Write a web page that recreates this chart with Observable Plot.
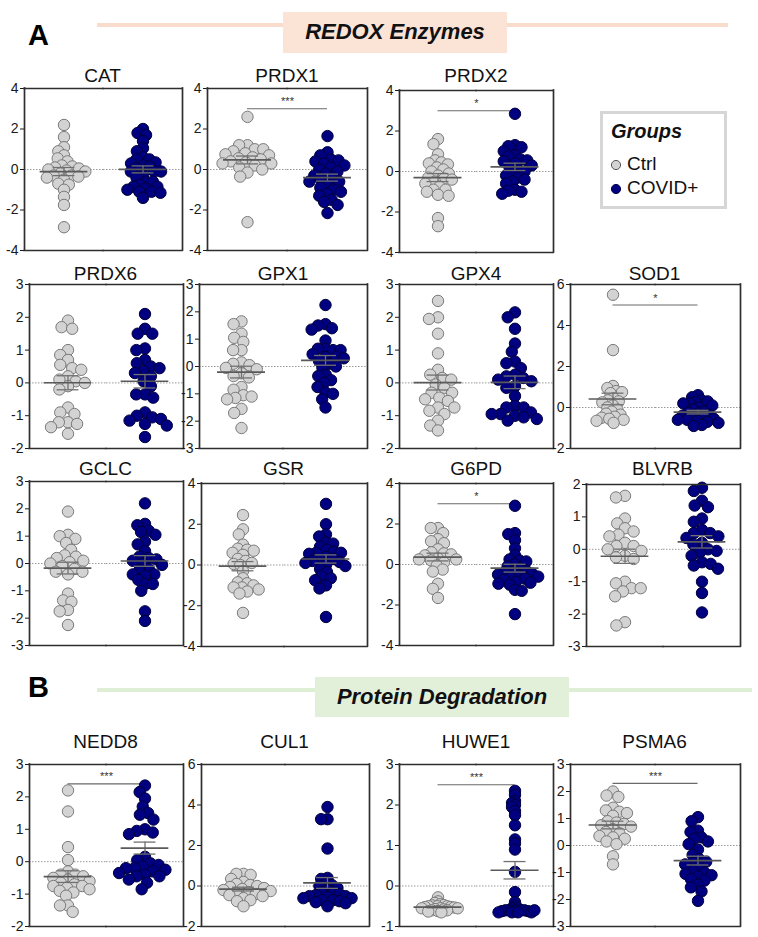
<!DOCTYPE html>
<html><head><meta charset="utf-8">
<script src="https://cdn.jsdelivr.net/npm/d3@7"></script>
<script src="https://cdn.jsdelivr.net/npm/@observablehq/plot@0.6"></script>
<style>
body{margin:0;background:#fff;font-family:"Liberation Sans",Arial,sans-serif;color:#1a1a1a;}
#root{position:relative;width:758px;height:937px;overflow:hidden;background:#fff;}
#root > div{position:absolute;}
.t{white-space:nowrap;line-height:1;}
</style></head><body><div id="root"></div>
<script>
// ---------- data ----------
const groups = ["Ctrl", "COVID+"];
const genes = ["CAT","PRDX1","PRDX2","PRDX6","GPX1","GPX4","SOD1","GCLC","GSR","G6PD","BLVRB","NEDD8","CUL1","HUWE1","PSMA6"];

const CAT_ctrl = [2.2,1.6,1.1,0.9,0.7,0.55,0.4,0.2,0.15,0.1,0.05,0,-0.05,-0.1,-0.2,-0.3,-0.3,-0.35,-0.4,-0.5,-0.7,-0.75,-1.0,-1.35,-1.75,-2.85];
const CAT_covid = [2.0,1.8,1.7,1.4,1.05,0.9,0.6,0.5,0.5,0.35,0.3,0.2,0.15,0.05,-0.1,-0.1,-0.1,-0.3,-0.4,-0.6,-0.6,-0.75,-0.85,-0.85,-0.95,-1.0,-1.1,-1.1,-1.15,-1.4];
const PRDX1_ctrl = [2.6,1.2,1.2,1.0,1.0,0.9,0.8,0.75,0.7,0.6,0.55,0.5,0.4,0.35,0.3,0.3,0.2,0.1,0.0,-0.15,-0.35,-2.6];
const PRDX1_covid = [1.65,0.85,0.7,0.5,0.45,0.4,0.3,0.2,0.1,0.0,-0.1,-0.2,-0.3,-0.4,-0.5,-0.6,-0.6,-0.75,-0.9,-1.0,-1.1,-1.2,-1.3,-1.5,-1.6,-1.75,-2.15];
const PRDX2_ctrl = [1.6,1.35,0.85,0.55,0.45,0.4,0.35,0.2,0.1,0.0,-0.1,-0.2,-0.3,-0.35,-0.4,-0.5,-0.6,-0.75,-0.9,-0.9,-1.0,-1.15,-1.2,-2.3,-2.7];
const PRDX2_covid = [2.85,1.3,1.25,1.2,1.0,0.8,0.75,0.6,0.55,0.5,0.4,0.3,0.2,0.1,0.0,-0.1,-0.2,-0.3,-0.4,-0.5,-0.6,-0.9,-0.95,-1.0,-1.1];
const PRDX6_ctrl = [1.9,1.7,1.65,1.0,0.85,0.7,0.55,0.45,0.4,0.2,0.1,0.05,0.0,-0.1,-0.2,-0.75,-0.9,-0.95,-1.2,-1.2,-1.25,-1.35,-1.55];
const PRDX6_covid = [2.1,1.65,1.5,1.5,1.05,1.0,0.7,0.6,0.5,0.45,0.35,0.3,0.2,0.05,-0.1,-0.35,-0.35,-0.45,-0.9,-1.0,-1.05,-1.1,-1.15,-1.25,-1.3,-1.65];
const GPX1_ctrl = [1.65,1.55,1.2,1.05,0.9,0.6,0.6,0.15,0.1,0.05,-0.05,-0.1,-0.25,-0.35,-0.4,-0.75,-0.85,-1.05,-1.1,-1.15,-1.2,-1.55,-1.7,-2.25];
const GPX1_covid = [2.25,1.55,1.5,1.4,1.35,0.95,0.65,0.65,0.6,0.6,0.45,0.35,0.35,0.3,0.2,0.1,0.0,-0.05,-0.3,-0.35,-0.5,-0.6,-0.75,-0.95,-1.0,-1.2,-1.5];
const GPX4_ctrl = [2.5,2.0,1.95,1.5,0.9,0.4,0.25,0.15,0.1,-0.05,-0.15,-0.3,-0.3,-0.45,-0.5,-0.55,-0.75,-0.75,-0.85,-0.95,-1.15,-1.3,-1.45];
const GPX4_covid = [2.15,2.0,1.65,1.2,0.95,0.65,0.6,0.45,0.25,0.2,0.15,0.1,0.05,-0.1,-0.15,-0.4,-0.7,-0.75,-0.75,-0.9,-0.95,-0.95,-1.0,-1.05,-1.1,-1.15];
const SOD1_ctrl = [5.5,2.8,1.05,0.95,0.8,0.75,0.7,0.45,0.35,0.3,0.25,0.1,0.0,-0.1,-0.2,-0.3,-0.35,-0.45,-0.5,-0.55,-0.6,-0.65,-0.75];
const SOD1_covid = [0.6,0.5,0.35,0.3,0.25,0.2,0.2,0.1,0.0,-0.1,-0.2,-0.25,-0.3,-0.35,-0.4,-0.45,-0.5,-0.55,-0.6,-0.6,-0.65,-0.7,-0.75,-0.85,-0.9];
const GCLC_ctrl = [1.9,1.05,1.0,0.9,0.75,0.5,0.3,0.25,0.2,0.1,0.05,0.0,-0.1,-0.2,-0.3,-0.3,-0.4,-1.1,-1.35,-1.4,-1.7,-1.75,-2.25];
const GCLC_covid = [2.2,1.45,1.4,1.2,1.15,1.05,0.8,0.7,0.45,0.25,0.2,0.15,0.1,0.0,-0.05,-0.2,-0.25,-0.4,-0.4,-0.45,-0.6,-0.75,-0.75,-1.0,-1.75,-2.1];
const GSR_ctrl = [2.45,1.75,1.5,1.0,0.8,0.75,0.7,0.6,0.5,0.3,0.2,0.1,0.05,0.0,-0.3,-0.65,-0.85,-0.9,-1.0,-1.1,-1.1,-1.2,-1.3,-1.4,-2.35];
const GSR_covid = [3.0,2.0,1.5,1.4,1.1,1.05,0.9,0.75,0.65,0.6,0.6,0.55,0.4,0.3,0.25,0.2,0.15,0.1,0.0,-0.05,-0.2,-0.35,-0.55,-0.65,-0.75,-1.0,-1.15,-2.55];
const G6PD_ctrl = [1.8,1.8,1.55,1.25,1.15,1.05,0.75,0.6,0.55,0.5,0.45,0.3,0.25,0.25,0.2,0.1,-0.05,-0.25,-0.35,-0.95,-1.2,-1.65];
const G6PD_covid = [2.9,1.55,1.5,1.2,0.8,0.45,0.25,0.2,0.15,0.0,-0.1,-0.2,-0.3,-0.35,-0.4,-0.45,-0.5,-0.55,-0.6,-0.65,-0.7,-0.75,-0.85,-0.9,-0.95,-1.0,-1.25,-1.3,-2.45];
const BLVRB_ctrl = [1.65,1.6,0.95,0.8,0.65,0.55,0.45,0.4,0.2,0.1,0.1,0.0,-0.05,-0.2,-0.25,-0.3,-1.0,-1.05,-1.2,-1.2,-1.3,-1.45,-2.25,-2.35];
const BLVRB_covid = [1.9,1.8,1.5,1.35,1.3,0.95,0.85,0.6,0.5,0.5,0.4,0.35,0.2,0.15,0.0,-0.05,-0.1,-0.2,-0.4,-0.45,-0.5,-0.6,-1.0,-1.35,-1.95];
const NEDD8_ctrl = [2.2,1.55,0.45,0.05,-0.3,-0.4,-0.4,-0.45,-0.5,-0.55,-0.6,-0.65,-0.7,-0.75,-0.75,-0.8,-0.85,-0.9,-0.95,-1.05,-1.35,-1.35,-1.55];
const NEDD8_covid = [2.35,2.15,1.95,1.7,1.5,1.45,1.3,1.0,0.95,0.9,0.85,0.15,0.05,-0.05,-0.1,-0.15,-0.2,-0.2,-0.25,-0.3,-0.35,-0.4,-0.45,-0.45,-0.55,-0.65,-0.85];
const CUL1_ctrl = [0.6,0.6,0.55,0.35,0.2,0.1,0.05,0.0,-0.05,-0.1,-0.15,-0.2,-0.25,-0.3,-0.35,-0.4,-0.45,-0.5,-0.6,-0.7,-0.75,-1.0];
const CUL1_covid = [3.9,3.3,3.3,1.85,0.4,0.35,0.1,0.05,0.0,-0.1,-0.2,-0.3,-0.35,-0.4,-0.45,-0.5,-0.5,-0.55,-0.6,-0.6,-0.7,-0.7,-0.75,-0.8,-0.85,-1.0];
const HUWE1_ctrl = [-0.28,-0.38,-0.42,-0.45,-0.47,-0.48,-0.5,-0.5,-0.5,-0.52,-0.52,-0.53,-0.55,-0.55,-0.55,-0.57,-0.58,-0.6,-0.6,-0.62,-0.63,-0.65];
const HUWE1_covid = [2.35,2.25,2.1,2.05,2.0,1.95,1.85,1.75,1.5,1.15,1.05,0.9,0.35,-0.15,-0.4,-0.5,-0.55,-0.55,-0.6,-0.6,-0.6,-0.6,-0.6,-0.62,-0.62,-0.65,-0.65,-0.65,-0.65,-0.6];
const PSMA6_ctrl = [2.0,1.85,1.8,1.4,1.3,1.25,1.2,1.1,0.9,0.85,0.8,0.75,0.7,0.6,0.5,0.45,0.35,0.3,0.25,0.15,0.05,-0.4,-0.7];
const PSMA6_covid = [1.05,0.9,0.55,0.5,0.3,0.25,0.15,0.05,-0.15,-0.35,-0.5,-0.6,-0.65,-0.7,-0.8,-0.95,-1.0,-1.05,-1.1,-1.15,-1.25,-1.3,-1.45,-1.55,-1.7,-2.05];

const values = {CAT:[CAT_ctrl,CAT_covid],PRDX1:[PRDX1_ctrl,PRDX1_covid],PRDX2:[PRDX2_ctrl,PRDX2_covid],
  PRDX6:[PRDX6_ctrl,PRDX6_covid],GPX1:[GPX1_ctrl,GPX1_covid],GPX4:[GPX4_ctrl,GPX4_covid],SOD1:[SOD1_ctrl,SOD1_covid],
  GCLC:[GCLC_ctrl,GCLC_covid],GSR:[GSR_ctrl,GSR_covid],G6PD:[G6PD_ctrl,G6PD_covid],BLVRB:[BLVRB_ctrl,BLVRB_covid],
  NEDD8:[NEDD8_ctrl,NEDD8_covid],CUL1:[CUL1_ctrl,CUL1_covid],HUWE1:[HUWE1_ctrl,HUWE1_covid],PSMA6:[PSMA6_ctrl,PSMA6_covid]};

// y-axis domains and tick labels
const ticksA = [-4,-2,0,2,4];
const ticksB = [-2,-1,0,1,2,3];
const ticksC = [-3,-2,-1,0,1,2,3];
const ticksD = [-2,0,2,4,6];
const ticksE = [-3,-2,-1,0,1,2];
const ticksF = [-1,0,1,2,3];
const yTicks = {CAT:ticksA,PRDX1:ticksA,PRDX2:ticksA,PRDX6:ticksB,GPX1:ticksC,GPX4:ticksB,SOD1:ticksD,
  GCLC:ticksC,GSR:ticksA,G6PD:ticksA,BLVRB:ticksE,NEDD8:ticksB,CUL1:ticksD,HUWE1:ticksF,PSMA6:ticksC};

// significance bars
const sigGenes = ["PRDX1","PRDX2","SOD1","G6PD","NEDD8","HUWE1","PSMA6"];
const sigY = [3, 3, 5, 3, 2.4, 2.5, 2.3];
const sigLabels = ["***","*","*","*","***","***","***"];

// section headers and legend text
const sectionLabels = ["A","B"];
const sectionTitles = ["REDOX Enzymes","Protein Degradation"];
const legendTitle = "Groups";

// ---------- layout (positions / styles) ----------
const layout = {
  CAT:[23,88,182,250], PRDX1:[207,88,367,250], PRDX2:[399,90,553,252],
  PRDX6:[28,284,183,448], GPX1:[199,284,367,448], GPX4:[399,284,553,448], SOD1:[569,284,740,448],
  GCLC:[28,481,183,645], GSR:[200,483,367,646], G6PD:[399,483,553,645], BLVRB:[585,484,740,646],
  NEDD8:[28,764,183,926], CUL1:[200,764,369,926], HUWE1:[399,764,553,926], PSMA6:[569,764,740,926]
};
const titleBase = {CAT:82,PRDX1:82,PRDX2:82,PRDX6:280,GPX1:280,GPX4:280,SOD1:280,GCLC:475,GSR:475,G6PD:475,BLVRB:475,NEDD8:748,CUL1:748,HUWE1:748,PSMA6:748};
// radius used for the beeswarm packing (dots overlap as in the original)
const dodgeR = {CAT:[3.5,3.4],PRDX1:[4.2,3.9],PRDX2:[3.4,3.4],PRDX6:[4.6,4.4],GPX1:[4.2,3.8],GPX4:[4.6,4.4],
  SOD1:[3.0,3.1],GCLC:[4.2,3.9],GSR:[3.3,3.6],G6PD:[3.6,3.4],BLVRB:[4.6,4.4],NEDD8:[4.0,4.2],
  CUL1:[3.6,3.2],HUWE1:[1.8,1.8],PSMA6:[3.8,3.8]};
const fills = ["#d3d3d3","#000080"];
const strokes = ["#7a7a7a","#00003c"];
const R = 5.7;
const FONT = "'Liberation Sans', Arial, sans-serif";

const root = document.getElementById("root");
function addText(txt, left, baseline, size, css = {}) {
  const d = document.createElement("div");
  d.className = "t";
  d.textContent = txt;
  Object.assign(d.style, {left: left + "px", top: (baseline - 0.8465 * size) + "px", fontSize: size + "px", fontFamily: FONT}, css);
  root.appendChild(d);
  return d;
}
function addBox(left, top, w, h, css) {
  const d = document.createElement("div");
  Object.assign(d.style, {left: left + "px", top: top + "px", width: w + "px", height: h + "px", boxSizing: "border-box"}, css);
  root.appendChild(d);
  return d;
}

// Section headers
addBox(97, 23, 631, 4, {background: "#f9dccb"});
addBox(283, 12, 224, 41, {background: "#fbe3d5"});
addText(sectionLabels[0], 28, 46, 29, {fontWeight: "bold", color: "#000"});
addText(sectionTitles[0], 283, 40, 22, {width: "224px", textAlign: "center", fontWeight: "bold", fontStyle: "italic", color: "#111"});

addBox(97, 688, 655, 4, {background: "#deefd6"});
addBox(315, 677, 254, 40, {background: "#e2f0da"});
addText(sectionLabels[1], 28, 698, 29, {fontWeight: "bold", color: "#000"});
addText(sectionTitles[1], 315, 705, 22, {width: "254px", textAlign: "center", fontWeight: "bold", fontStyle: "italic", color: "#111"});

// Legend
addBox(600, 111, 127, 98, {border: "3px solid #d6d6d6", background: "#fff"});
addText(legendTitle, 611, 138, 20, {fontWeight: "bold", fontStyle: "italic", color: "#111"});
const legY = [163, 187];
groups.forEach((g, i) => {
  const s = document.createElement("div");
  s.style.left = "610px"; s.style.top = (legY[i] - 6) + "px";
  s.innerHTML = `<svg width="12" height="12"><circle cx="6" cy="6" r="4.6" fill="${fills[i]}" stroke="${i ? "#00003c" : "#555"}" stroke-width="1"/></svg>`;
  root.appendChild(s);
  addText(g, 627, legY[i] + 7, 19, {color: "#111"});
});

// Panels
function drawPanel(gene) {
  const [x0, y0, x1, y1] = layout[gene];
  const ML = 36, MR = 10, MT = 10, MB = 10;
  const fw = x1 - x0, fh = y1 - y0, half = fw / 2;
  const ticks = yTicks[gene];
  const domain = [ticks[0], ticks[ticks.length - 1]];
  const vals = values[gene];
  const dr = dodgeR[gene];
  const stats = groups.map((g, i) => {
    const a = vals[i];
    const m = d3.mean(a);
    const se = d3.deviation(a) / Math.sqrt(a.length);
    return {g, m, lo: m - se, hi: m + se};
  });
  const mw = 24 / half, cw = 11 / half;
  const marks = [Plot.ruleY([0], {stroke: "#9a9a9a", strokeWidth: 1, strokeDasharray: "1.5,1.5"})];
  const si = sigGenes.indexOf(gene);
  if (si >= 0) {
    const sy = sigY[si];
    marks.push(
      Plot.ruleY([groups[0]], {fx: d => d, y: () => sy, x1: () => 0.5, x2: () => 1, stroke: "#6a6a6a", strokeWidth: 1.2}),
      Plot.ruleY([groups[1]], {fx: d => d, y: () => sy, x1: () => 0, x2: () => 0.5, stroke: "#6a6a6a", strokeWidth: 1.2}),
      Plot.text([groups[0]], {fx: d => d, x: () => 1, y: () => sy, text: () => sigLabels[si], dy: -7, fontSize: 11, fill: "#333"})
    );
  }
  groups.forEach((g, i) => {
    marks.push(Plot.dot(vals[i].map(v => ({g, v})),
      Plot.dodgeX({anchor: "middle", padding: 0, r: dr[i]},
        {y: "v", fx: "g", r: R, fill: fills[i], stroke: strokes[i], strokeWidth: 1})));
  });
  marks.push(
    Plot.ruleX(stats, {fx: "g", x: () => 0.5, y1: "lo", y2: "hi", stroke: "#707070", strokeWidth: 1.3}),
    Plot.ruleY(stats, {fx: "g", y: "lo", x1: () => 0.5 - cw, x2: () => 0.5 + cw, stroke: "#707070", strokeWidth: 1.3}),
    Plot.ruleY(stats, {fx: "g", y: "hi", x1: () => 0.5 - cw, x2: () => 0.5 + cw, stroke: "#707070", strokeWidth: 1.3}),
    Plot.ruleY(stats, {fx: "g", y: "m", x1: () => 0.5 - mw, x2: () => 0.5 + mw, stroke: "#5a5a5a", strokeWidth: 1.7}),
    Plot.ruleY(domain, {stroke: "#2e2e2e", strokeWidth: 1.7, strokeLinecap: "square"}),
    Plot.ruleX([groups[0]], {fx: d => d, x: () => 0, stroke: "#2e2e2e", strokeWidth: 1.7, strokeLinecap: "square"}),
    Plot.ruleX([groups[1]], {fx: d => d, x: () => 1, stroke: "#2e2e2e", strokeWidth: 1.7, strokeLinecap: "square"})
  );
  const chart = Plot.plot({
    width: fw + ML + MR, height: fh + MT + MB,
    marginLeft: ML, marginRight: MR, marginTop: MT, marginBottom: MB,
    fx: {domain: groups, padding: 0, axis: null, label: null},
    x: {domain: [0, 1], axis: null},
    y: {domain, ticks, tickFormat: d => String(d), tickSize: 4, tickPadding: 2, label: null},
    style: {fontSize: "14px", fontFamily: FONT, color: "#1a1a1a", background: "transparent", overflow: "visible"},
    marks
  });
  const wrap = document.createElement("div");
  wrap.style.left = (x0 - ML) + "px";
  wrap.style.top = (y0 - MT) + "px";
  wrap.appendChild(chart);
  root.appendChild(wrap);
  addText(gene, x0, titleBase[gene], 19, {width: fw + "px", textAlign: "center", color: "#111"});
}
genes.forEach(drawPanel);
</script></body></html>
